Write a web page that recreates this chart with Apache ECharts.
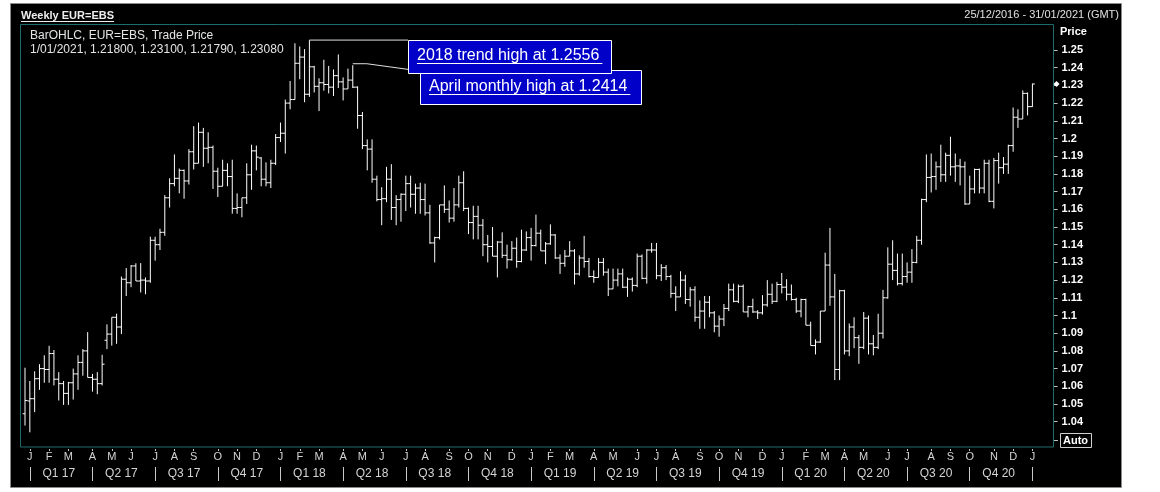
<!DOCTYPE html>
<html><head><meta charset="utf-8">
<script src="https://cdn.jsdelivr.net/npm/echarts@6/dist/echarts.min.js"></script>
<style>html,body{margin:0;padding:0;background:#fff;}#c{width:1160px;height:492px;}</style>
</head><body><div id="c"></div>
<script>
// ---- DATA (weekly EUR=EBS, weeks ending Friday, from 30/12/2016) ----
const firstWeek = '2016-12-30';
const emptyWeeksAfter = 4; // axis runs to 31/01/2021
const opens = [
1.0445,
1.0517,1.0530,1.0643,1.0700,1.0695,1.0785,1.0640,1.0615,1.0560,1.0620,1.0670,1.0735,1.0800,1.0650,1.0640,1.0615,1.0860,1.0895,1.0990,1.0935,1.1205,1.1185,1.1280,1.1195,1.1200,1.1195,1.1425,1.1400,1.1470,1.1665,1.1745,1.1775,1.1820,1.1760,1.1925,1.1860,1.2035,1.1945,1.1950,1.1815,1.1730,1.1820,1.1785,1.1605,1.1610,1.1665,1.1795,1.1930,1.1890,1.1770,1.1750,1.1860,
1.2005,1.2030,1.2200,1.2220,1.2425,1.2460,1.2250,1.2405,1.2295,1.2315,1.2305,1.2290,1.2355,1.2320,1.2280,1.2330,1.2290,1.2130,1.1960,1.1940,1.1770,1.1655,1.1660,1.1770,1.1610,1.1655,1.1685,1.1745,1.1685,1.1720,1.1655,1.1580,1.1410,1.1440,1.1625,1.1600,1.1550,1.1625,1.1750,1.1605,1.1525,1.1560,1.1510,1.1400,1.1390,1.1335,1.1415,1.1340,1.1315,1.1380,1.1305,1.1370,
1.1440,1.1395,1.1465,1.1365,1.1405,1.1455,1.1325,1.1295,1.1335,1.1365,1.1235,1.1325,1.1305,1.1220,1.1215,1.1300,1.1245,1.1150,1.1200,1.1235,1.1160,1.1205,1.1170,1.1335,1.1210,1.1370,1.1370,1.1225,1.1270,1.1220,1.1125,1.1105,1.1200,1.1090,1.1145,1.0990,1.1025,1.1075,1.1015,1.0940,1.0980,1.1040,1.1145,1.1080,1.1165,1.1020,1.1050,1.1020,1.1015,1.1060,1.1120,1.1080,
1.1175,1.1160,1.1120,1.1090,1.1025,1.1090,1.0945,1.0830,1.0850,1.1025,1.1285,1.1105,1.0695,1.1140,1.0800,1.0935,1.0875,1.0820,1.0985,1.0840,1.0820,1.0900,1.1100,1.1290,1.1255,1.1180,1.1220,1.1245,1.1300,1.1425,1.1655,1.1780,1.1785,1.1840,1.1795,1.1905,1.1840,1.1845,1.1840,1.1630,1.1715,1.1825,1.1720,1.1860,1.1645,1.1875,1.1835,1.1855,1.1960,1.2120,1.2110,1.2255,
1.2180];
const highs = [
1.0705,
1.0630,1.0685,1.0725,1.0775,1.0829,1.0805,1.0680,1.0630,1.0625,1.0700,1.0775,1.0810,1.0906,1.0670,1.0680,1.0778,1.0950,1.0990,1.1010,1.1220,1.1268,1.1285,1.1295,1.1296,1.1215,1.1445,1.1445,1.1490,1.1680,1.1775,1.1910,1.1830,1.1825,1.1940,1.2070,1.2090,1.2060,1.2035,1.1960,1.1835,1.1880,1.1860,1.1880,1.1690,1.1665,1.1860,1.1965,1.1960,1.1895,1.1865,1.1880,1.2025,
1.2090,1.2220,1.2325,1.2538,1.2520,1.2505,1.2556,1.2410,1.2340,1.2445,1.2410,1.2390,1.2475,1.2345,1.2395,1.2414,1.2295,1.2150,1.1995,1.1995,1.1790,1.1725,1.1840,1.1855,1.1680,1.1690,1.1790,1.1790,1.1745,1.1750,1.1745,1.1625,1.1445,1.1625,1.1735,1.1650,1.1720,1.1790,1.1815,1.1610,1.1620,1.1620,1.1545,1.1455,1.1500,1.1420,1.1470,1.1400,1.1420,1.1440,1.1485,1.1475,
1.1495,1.1570,1.1485,1.1415,1.1515,1.1460,1.1345,1.1370,1.1420,1.1375,1.1340,1.1450,1.1325,1.1255,1.1325,1.1325,1.1265,1.1265,1.1265,1.1265,1.1215,1.1215,1.1350,1.1345,1.1375,1.1410,1.1410,1.1290,1.1285,1.1230,1.1165,1.1250,1.1230,1.1160,1.1165,1.1085,1.1110,1.1110,1.1025,1.1000,1.1065,1.1180,1.1180,1.1175,1.1175,1.1055,1.1095,1.1030,1.1115,1.1200,1.1180,1.1190,
1.1240,1.1205,1.1175,1.1100,1.1095,1.1095,1.0965,1.0865,1.1025,1.1355,1.1495,1.1235,1.1145,1.1145,1.0955,1.0990,1.0890,1.1020,1.1000,1.0890,1.1010,1.1145,1.1385,1.1425,1.1350,1.1350,1.1300,1.1375,1.1450,1.1660,1.1910,1.1915,1.1870,1.1965,1.1920,1.2010,1.1915,1.1885,1.1870,1.1790,1.1830,1.1830,1.1880,1.1880,1.1890,1.1920,1.1895,1.1965,1.2175,1.2165,1.2272,1.2260,
1.2310];
const lows = [
1.0378,
1.0340,1.0454,1.0580,1.0620,1.0620,1.0605,1.0520,1.0495,1.0495,1.0525,1.0580,1.0660,1.0650,1.0570,1.0555,1.0605,1.0810,1.0830,1.0840,1.0895,1.1110,1.1160,1.1195,1.1130,1.1120,1.1185,1.1310,1.1370,1.1450,1.1610,1.1730,1.1690,1.1660,1.1740,1.1825,1.1860,1.1840,1.1860,1.1715,1.1670,1.1730,1.1730,1.1575,1.1575,1.1555,1.1630,1.1710,1.1820,1.1730,1.1730,1.1720,1.1850,
1.1980,1.1915,1.2165,1.2220,1.2335,1.2205,1.2235,1.2260,1.2155,1.2270,1.2255,1.2240,1.2285,1.2215,1.2280,1.2285,1.2055,1.1940,1.1820,1.1750,1.1645,1.1510,1.1640,1.1540,1.1510,1.1530,1.1590,1.1610,1.1575,1.1575,1.1565,1.1405,1.1300,1.1430,1.1580,1.1525,1.1530,1.1610,1.1590,1.1460,1.1430,1.1430,1.1335,1.1300,1.1335,1.1215,1.1325,1.1265,1.1310,1.1270,1.1300,1.1365,
1.1310,1.1390,1.1365,1.1290,1.1400,1.1320,1.1235,1.1275,1.1335,1.1175,1.1225,1.1270,1.1215,1.1185,1.1215,1.1225,1.1110,1.1150,1.1165,1.1155,1.1105,1.1135,1.1160,1.1205,1.1180,1.1355,1.1205,1.1195,1.1200,1.1100,1.1025,1.1105,1.1065,1.1050,1.0965,1.0925,1.0925,1.0990,1.0905,1.0880,1.0940,1.1025,1.1075,1.1070,1.1020,1.0990,1.1015,1.0980,1.1005,1.1050,1.1065,1.1075,
1.1125,1.1085,1.1085,1.1015,1.0990,1.0945,1.0830,1.0780,1.0845,1.1025,1.1055,1.0635,1.0635,1.0780,1.0770,1.0815,1.0727,1.0810,1.0780,1.0775,1.0810,1.0870,1.1095,1.1200,1.1170,1.1170,1.1185,1.1185,1.1295,1.1400,1.1640,1.1695,1.1710,1.1755,1.1755,1.1790,1.1755,1.1735,1.1625,1.1630,1.1690,1.1690,1.1690,1.1640,1.1605,1.1745,1.1800,1.1800,1.1925,1.2060,1.2110,1.2130,
1.2179];
const closes = [
1.0520,
1.0530,1.0643,1.0700,1.0695,1.0785,1.0640,1.0615,1.0560,1.0620,1.0670,1.0735,1.0800,1.0650,1.0640,1.0615,1.0725,1.0895,1.0990,1.0935,1.1205,1.1185,1.1280,1.1195,1.1200,1.1195,1.1425,1.1400,1.1470,1.1665,1.1745,1.1775,1.1820,1.1760,1.1925,1.1860,1.2035,1.1945,1.1950,1.1815,1.1730,1.1820,1.1785,1.1605,1.1610,1.1665,1.1795,1.1930,1.1895,1.1770,1.1750,1.1860,1.2005,
1.2030,1.2200,1.2220,1.2425,1.2460,1.2250,1.2405,1.2295,1.2315,1.2305,1.2290,1.2355,1.2320,1.2280,1.2330,1.2290,1.2130,1.1960,1.1940,1.1770,1.1655,1.1660,1.1770,1.1610,1.1655,1.1685,1.1745,1.1685,1.1720,1.1655,1.1580,1.1410,1.1440,1.1625,1.1600,1.1550,1.1625,1.1750,1.1605,1.1525,1.1560,1.1510,1.1400,1.1390,1.1335,1.1415,1.1340,1.1315,1.1380,1.1305,1.1370,1.1440,
1.1395,1.1465,1.1365,1.1405,1.1455,1.1325,1.1295,1.1335,1.1365,1.1235,1.1325,1.1305,1.1220,1.1215,1.1300,1.1245,1.1150,1.1200,1.1235,1.1160,1.1205,1.1170,1.1335,1.1210,1.1370,1.1370,1.1225,1.1270,1.1220,1.1125,1.1105,1.1200,1.1090,1.1145,1.0990,1.1025,1.1075,1.1015,1.0940,1.0980,1.1040,1.1145,1.1080,1.1165,1.1020,1.1050,1.1020,1.1015,1.1060,1.1120,1.1080,1.1175,
1.1160,1.1120,1.1090,1.1025,1.1090,1.0945,1.0830,1.0850,1.1025,1.1285,1.1105,1.0695,1.1140,1.0800,1.0935,1.0875,1.0820,1.0985,1.0840,1.0820,1.0900,1.1100,1.1290,1.1255,1.1180,1.1220,1.1245,1.1300,1.1425,1.1655,1.1780,1.1785,1.1840,1.1795,1.1905,1.1840,1.1845,1.1840,1.1630,1.1715,1.1825,1.1720,1.1860,1.1645,1.1875,1.1835,1.1855,1.1960,1.2120,1.2110,1.2255,1.2180,
1.2308];
const yTickMin = 1.04, yTickMax = 1.25, yTickStep = 0.01;
const monthLetters = ['J','F','M','A','M','J','J','A','S','O','N','D'];
const titleText = 'Weekly EUR=EBS';
const rangeText = '25/12/2016 - 31/01/2021 (GMT)';
const legendLine1 = 'BarOHLC, EUR=EBS, Trade Price';
const legendLine2 = '1/01/2021, 1.21800, 1.23100, 1.21790, 1.23080';
const annotations = [
  {week: 59, value: 1.2556, text: '2018 trend high at 1.2556'},
  {week: 68, value: 1.2414, text: 'April monthly high at 1.2414'}
];

// ---- build ----
const weeks = [];
const t0 = Date.parse(firstWeek + 'T00:00:00Z');
for (let i = 0; i < opens.length + emptyWeeksAfter; i++) {
  weeks.push(new Date(t0 + i * 7 * 86400000).toISOString().slice(0, 10));
}
const monthOf = s => +s.slice(5, 7) - 1;
const isMonthStart = i => i > 0 && monthOf(weeks[i]) !== monthOf(weeks[i - 1]);
const isQuarterStart = i => isMonthStart(i) && monthOf(weeks[i]) % 3 === 0;
const quarterLabels = {};
weeks.forEach((w, i) => {
  if (isQuarterStart(i) && i + 6 < opens.length) {
    quarterLabels[i + 6] = 'Q' + (monthOf(w) / 3 + 1) + ' ' + w.slice(2, 4);
  }
});
const ohlc = opens.map((o, i) => [i, o, highs[i], lows[i], closes[i]]);

// pixel scale: 1.25 at y=50, 0.01 = 17.7 px ; plot frame y 24..447
const pxPerUnit = 1770;
const gTop = 24, gBottom = 447;
const yMax = 1.25 + (50 - gTop) / pxPerUnit;
const yMin = 1.25 - (gBottom - 50) / pxPerUnit;

const axisTextColor = '#d4d4d4';
const chart = echarts.init(document.getElementById('c'), null, {renderer: 'canvas'});
const option = {
  animation: false,
  backgroundColor: '#ffffff',
  grid: [
    {left: 22.6, top: gTop, width: 1031.5, height: gBottom - gTop},
    {left: 22.6, top: 50, width: 1031, height: (yTickMax - yTickMin) * pxPerUnit}
  ],
  xAxis: [
    {gridIndex: 0, type: 'category', position: 'bottom', data: weeks, boundaryGap: true, offset: 2,
     axisLine: {show: false, onZero: false},
     axisTick: {show: true, alignWithLabel: true, length: 2, interval: (i) => isMonthStart(i), lineStyle: {color: '#c8c8c8'}},
     axisLabel: {interval: (i) => isMonthStart(i), formatter: (v) => monthLetters[monthOf(v)], margin: 2,
       color: axisTextColor, fontSize: 11, fontFamily: 'Liberation Sans, Arial'},
     splitLine: {show: false}},
    {gridIndex: 0, type: 'category', position: 'bottom', data: weeks, boundaryGap: true, offset: 20,
     axisLine: {show: false, onZero: false},
     axisTick: {show: true, alignWithLabel: true, length: 14, interval: (i) => isQuarterStart(i), lineStyle: {color: '#c8c8c8'}},
     axisLabel: {interval: (i) => quarterLabels[i] !== undefined, formatter: (v, i) => quarterLabels[i] || '', margin: 1,
       color: axisTextColor, fontSize: 12, fontFamily: 'Liberation Sans, Arial'},
     splitLine: {show: false}},
    {gridIndex: 1, type: 'value', min: 0, max: 1, show: false}
  ],
  yAxis: [
    {gridIndex: 0, type: 'value', min: yMin, max: yMax, show: false,
     axisLine: {show: false, onZero: false}, axisTick: {show: false}, axisLabel: {show: false}, splitLine: {show: false}},
    {gridIndex: 1, type: 'value', position: 'right', min: yTickMin, max: yTickMax, interval: yTickStep,
     axisLine: {show: false, onZero: false},
     axisTick: {show: true, length: 4, lineStyle: {color: '#c0c0c0'}},
     axisLabel: {margin: 8, color: '#ffffff', fontWeight: 'bold', fontSize: 11, fontFamily: 'Liberation Sans, Arial',
       formatter: (v) => String(+(+v).toFixed(2))},
     splitLine: {show: false}}
  ],
  series: [{
    type: 'custom', xAxisIndex: 0, yAxisIndex: 0, clip: false, z: 5,
    data: ohlc,
    encode: {x: 0, y: [1, 2, 3, 4]},
    renderItem: function (params, api) {
      const i = api.value(0);
      const pO = api.coord([i, api.value(1)]);
      const pH = api.coord([i, api.value(2)]);
      const pL = api.coord([i, api.value(3)]);
      const pC = api.coord([i, api.value(4)]);
      const x = pO[0];
      const st = {stroke: '#ffffff', lineWidth: 1};
      return {type: 'group', children: [
        {type: 'line', shape: {x1: x, y1: pH[1], x2: x, y2: pL[1]}, style: st},
        {type: 'line', shape: {x1: x - 2.4, y1: pO[1], x2: x, y2: pO[1]}, style: st},
        {type: 'line', shape: {x1: x, y1: pC[1], x2: x + 2.4, y2: pC[1]}, style: st}
      ]};
    }
  }]
};
chart.setOption(option);

// ---- decorations (positioned from the chart's own scales) ----
const mctx = document.createElement('canvas').getContext('2d');
function textWidth(t, font) { mctx.font = font; return mctx.measureText(t).width; }
const px = (i, v) => chart.convertToPixel({xAxisIndex: 0, yAxisIndex: 0}, [i, v]);

const g = [];
g.push({type: 'rect', z: -10, silent: true, shape: {x: 10.5, y: 3.5, width: 1111, height: 484},
  style: {fill: '#000000', stroke: '#8a8a8a', lineWidth: 1}});
g.push({type: 'rect', z: 50, silent: true, shape: {x: 20.5, y: 24.5, width: 1033, height: 422.5},
  style: {fill: 'none', stroke: '#1f6c6c', lineWidth: 1}});
const titleFont = 'bold 11px "Liberation Sans", Arial';
g.push({type: 'text', z: 60, x: 21, y: 16, style: {text: titleText, font: titleFont, fill: '#eeeeee', verticalAlign: 'middle'}});
g.push({type: 'line', z: 60, shape: {x1: 21, y1: 21.5, x2: 21 + textWidth(titleText, titleFont), y2: 21.5}, style: {stroke: '#eeeeee', lineWidth: 1}});
g.push({type: 'text', z: 60, x: 1119, y: 15, style: {text: rangeText, font: '11px "Liberation Sans", Arial', fill: '#e0e0e0', align: 'right', verticalAlign: 'middle'}});
g.push({type: 'text', z: 60, x: 30, y: 36, style: {text: legendLine1, font: '12px "Liberation Sans", Arial', fill: '#e4e4e4', verticalAlign: 'middle'}});
g.push({type: 'text', z: 60, x: 30, y: 50, style: {text: legendLine2, font: '12px "Liberation Sans", Arial', fill: '#e4e4e4', verticalAlign: 'middle'}});
g.push({type: 'text', z: 60, x: 1060, y: 32, style: {text: 'Price', font: 'bold 11px "Liberation Sans", Arial', fill: '#ffffff', verticalAlign: 'middle'}});
g.push({type: 'rect', z: 60, shape: {x: 1060.5, y: 433.5, width: 31, height: 14}, style: {fill: 'none', stroke: '#d0d0d0', lineWidth: 1}});
g.push({type: 'text', z: 60, x: 1063, y: 441, style: {text: 'Auto', font: 'bold 11px "Liberation Sans", Arial', fill: '#ffffff', verticalAlign: 'middle'}});
g.push({type: 'line', z: 60, shape: {x1: 1054, y1: 440.5, x2: 1058, y2: 440.5}, style: {stroke: '#c0c0c0', lineWidth: 1}});
const lastPt = px(closes.length - 1, closes[closes.length - 1]);
g.push({type: 'polygon', z: 60, shape: {points: [[1056.5, lastPt[1] - 3], [1059.5, lastPt[1]], [1056.5, lastPt[1] + 3], [1053.5, lastPt[1]]]}, style: {fill: '#ffffff'}});

const boxFont = '16px "Liberation Sans", Arial';
const boxes = [
  {x: 408, y: 40, w: 203, h: 33, tx: 417, ty: 56},
  {x: 420, y: 70, w: 221, h: 34, tx: 429, ty: 87}
];
const a0 = px(annotations[0].week, annotations[0].value);
const a1 = px(annotations[1].week, annotations[1].value);
g.push({type: 'polyline', z: 40, shape: {points: [[a1[0], a1[1] - 1.5], [a1[0] + 14, a1[1] - 1.5], [boxes[1].x, boxes[1].y + 1]]}, style: {stroke: '#e0e0e0', lineWidth: 1, fill: 'none'}});
g.push({type: 'line', z: 40, shape: {x1: a0[0], y1: a0[1], x2: boxes[0].x, y2: a0[1]}, style: {stroke: '#e0e0e0', lineWidth: 1}});
[1, 0].forEach((k) => {
  const b = boxes[k];
  const zb = k === 0 ? 80 : 70;
  g.push({type: 'rect', z: zb, shape: {x: b.x + 0.5, y: b.y + 0.5, width: b.w, height: b.h}, style: {fill: '#0000c8', stroke: '#ffffff', lineWidth: 1}});
  g.push({type: 'text', z: zb + 1, x: b.tx, y: b.ty, style: {text: annotations[k].text, font: boxFont, fill: '#ffffff', verticalAlign: 'middle'}});
  const w = textWidth(annotations[k].text, boxFont);
  g.push({type: 'line', z: zb + 1, shape: {x1: b.tx, y1: b.ty + 7.5, x2: b.tx + w + 3, y2: b.ty + 7.5}, style: {stroke: '#ffffff', lineWidth: 1}});
});
chart.setOption({graphic: {elements: g}});
</script>
</body></html>
